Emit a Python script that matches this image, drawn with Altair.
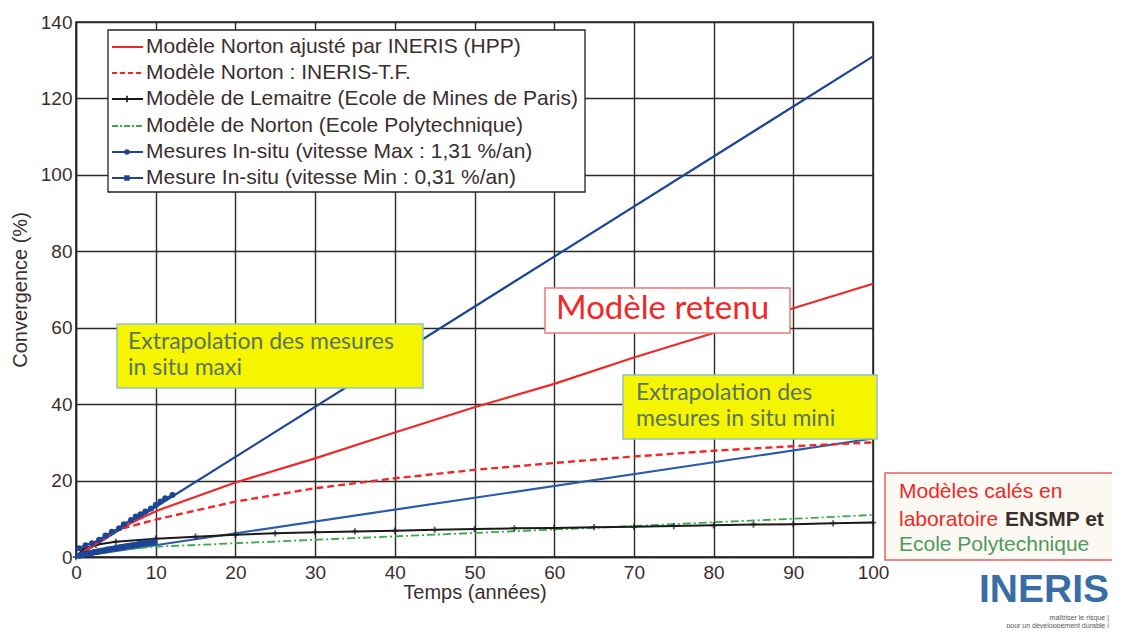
import altair as alt
import pandas as pd

# ---------------- data ----------------
t_model = [0, 5, 10, 20, 30, 40, 50, 60, 70, 80, 90, 100]
norton_hpp = [0, 7.0, 12.0, 19.5, 25.8, 32.6, 39.2, 45.3, 52.2, 58.6, 65.1, 71.5]
norton_tf = [0, 7.0, 9.8, 14.5, 18.0, 20.6, 22.8, 24.6, 26.3, 27.8, 29.0, 30.0]
norton_poly = [0, 1.8, 2.7, 3.6, 4.5, 5.4, 6.3, 7.2, 8.1, 9.1, 10.0, 11.0]

t_lem = [0, 1, 2.5, 5, 10, 15, 20, 25, 30, 35, 40, 45, 50, 55, 60, 65, 70, 75, 80, 85, 90, 95, 100]
lemaitre = [0, 2.2, 3.2, 4.0, 4.8, 5.3, 5.8, 6.2, 6.5, 6.7, 6.9, 7.1, 7.3, 7.5, 7.6, 7.8, 7.9, 8.1, 8.3, 8.5, 8.6, 8.8, 9.0]

t_extra = [0, 100]
extra_max = [0, 131]
extra_min = [0, 31]

t_meas_max = [0.4, 1.2, 2.0, 2.9, 3.7, 4.5, 5.4, 6.0, 6.9, 7.5, 8.1, 8.7, 9.4, 10.0, 10.6, 11.2, 12.1]
meas_max = [2.3, 3.1, 3.6, 4.5, 5.6, 6.6, 7.5, 8.6, 9.7, 10.6, 11.2, 11.9, 12.7, 13.6, 14.5, 15.4, 16.2]

t_meas_min = [0.3, 0.8, 1.3, 1.8, 2.4, 3.0, 3.5, 4.1, 4.7, 5.2, 5.8, 6.4, 7.0, 7.6, 8.1, 8.7, 9.3, 9.9]
meas_min = [0.3, 0.6, 0.8, 1.0, 1.3, 1.5, 1.7, 2.0, 2.2, 2.4, 2.6, 2.8, 3.0, 3.2, 3.4, 3.6, 3.8, 4.0]

x_ticks = [0, 10, 20, 30, 40, 50, 60, 70, 80, 90, 100]
y_ticks = [0, 20, 40, 60, 80, 100, 120, 140]

legend_labels = [
    "Modèle Norton ajusté par INERIS (HPP)",
    "Modèle Norton : INERIS-T.F.",
    "Modèle de Lemaitre (Ecole de Mines de Paris)",
    "Modèle de Norton (Ecole Polytechnique)",
    "Mesures In-situ (vitesse Max : 1,31 %/an)",
    "Mesure In-situ (vitesse Min : 0,31 %/an)",
]

# ---------------- styles ----------------
RED = "#f02828"
BLUE = "#1c4596"
BLUE2 = "#2a5bab"
GREEN = "#3aa845"
BLACK = "#1a1a1a"
TXT = "#3a2e2e"
FONT = "Liberation Sans"
AFONT = "Lato"

W, H = 797, 535


def df(t, v):
    return pd.DataFrame({"t": t, "v": v})


X = alt.X("t:Q", scale=alt.Scale(domain=[0, 100], nice=False, zero=False),
          axis=alt.Axis(values=x_ticks, title="Temps (années)", labelFlush=False,
                        labelOverlap=False, tickSize=0, labelPadding=6,
                        titlePadding=0, format="d"))
Y = alt.Y("v:Q", scale=alt.Scale(domain=[0, 140], nice=False),
          axis=alt.Axis(values=y_ticks, title="Convergence (%)", labelFlush=False,
                        labelOverlap=False, tickSize=0, labelPadding=4,
                        titlePadding=10, format="d"))
Xn = alt.X("t:Q")
Yn = alt.Y("v:Q")

layers = []
layers.append(alt.Chart(df(t_extra, extra_max)).mark_line(color=BLUE, strokeWidth=2.2).encode(x=X, y=Y))
layers.append(alt.Chart(df(t_extra, extra_min)).mark_line(color=BLUE2, strokeWidth=2.2).encode(x=Xn, y=Yn))
layers.append(alt.Chart(df(t_model, norton_poly)).mark_line(color=GREEN, strokeWidth=1.8, strokeDash=[8, 3, 2, 3]).encode(x=Xn, y=Yn))
layers.append(alt.Chart(df(t_lem, lemaitre)).mark_line(color=BLACK, strokeWidth=2).encode(x=Xn, y=Yn))
layers.append(alt.Chart(df(t_lem, lemaitre)).mark_point(shape="M-1,0L1,0M0,-1L0,1", color=BLACK, size=40, strokeWidth=1.8).encode(x=Xn, y=Yn))
layers.append(alt.Chart(df(t_model, norton_tf)).mark_line(color=RED, strokeWidth=2.4, strokeDash=[7, 4]).encode(x=Xn, y=Yn))
layers.append(alt.Chart(df(t_model, norton_hpp)).mark_line(color=RED, strokeWidth=2.2).encode(x=Xn, y=Yn))
layers.append(alt.Chart(df(t_meas_min, meas_min)).mark_line(color=BLUE, strokeWidth=6).encode(x=Xn, y=Yn))
layers.append(alt.Chart(df(t_meas_min, meas_min)).mark_point(shape="square", filled=True, color=BLUE, size=30, opacity=1).encode(x=Xn, y=Yn))
layers.append(alt.Chart(df(t_meas_max, meas_max)).mark_line(color=BLUE, strokeWidth=2).encode(x=Xn, y=Yn))
layers.append(alt.Chart(df(t_meas_max, meas_max)).mark_point(shape="circle", filled=True, color=BLUE, size=36, opacity=1).encode(x=Xn, y=Yn))

one = pd.DataFrame({"k": [0]})


def box(x1, x2, y1, y2, fill, stroke, sw=1.5):
    return alt.Chart(one).mark_rect(fill=fill, stroke=stroke, strokeWidth=sw).encode(
        x=alt.value(x1), x2=alt.value(x2), y=alt.value(y1), y2=alt.value(y2))


def label(x, y, text, size, color, font=FONT, weight="normal", align="left"):
    return alt.Chart(one).mark_text(text=text, fontSize=size, color=color, font=font,
                                    fontWeight=weight, align=align, baseline="middle").encode(
        x=alt.value(x), y=alt.value(y))


def hline(x1, x2, y, color, dash=None, sw=2):
    kw = dict(color=color, strokeWidth=sw)
    if dash is not None:
        kw["strokeDash"] = dash
    return alt.Chart(one).mark_rule(**kw).encode(x=alt.value(x1), x2=alt.value(x2), y=alt.value(y))


def marker(x, y, shape, color, size, filled=True, sw=1):
    return alt.Chart(one).mark_point(shape=shape, color=color, size=size, filled=filled,
                                     strokeWidth=sw, opacity=1).encode(x=alt.value(x), y=alt.value(y))


# legend (pixel layout inside plot area)
layers.append(box(32, 509, 8, 170, "white", "#222", 1.3))
rows = [25, 51, 77, 104, 130, 156]
lx1, lx2, ltx = 36, 67, 70
layers.append(hline(lx1, lx2, rows[0], RED))
layers.append(hline(lx1, lx2, rows[1], RED, [5, 3]))
layers.append(hline(lx1, lx2, rows[2], BLACK))
layers.append(marker(51, rows[2], "M-1,0L1,0M0,-1L0,1", BLACK, 40, False, 1.6))
layers.append(hline(lx1, lx2, rows[3], GREEN, [6, 2, 2, 2]))
layers.append(hline(lx1, lx2, rows[4], BLUE))
layers.append(marker(51, rows[4], "circle", BLUE, 30))
layers.append(hline(lx1, lx2, rows[5], BLUE))
layers.append(marker(51, rows[5], "square", BLUE, 30))
for r, txt in zip(rows, legend_labels):
    layers.append(label(ltx, r, txt, 21, TXT))

# annotations
ANN = "#5a7462"
layers.append(box(41, 347, 302, 366, "#f5f500", "#8fc4c4", 1.5))
layers.append(label(52, 320, "Extrapolation des mesures", 23, ANN, AFONT))
layers.append(label(52, 346, "in situ maxi", 23, ANN, AFONT))
layers.append(box(469, 714, 266, 311, "white", "#ee7a7a", 1.5))
layers.append(label(480, 287, "Modèle retenu", 33, RED, AFONT))
layers.append(box(547, 801, 353, 417, "#f5f500", "#8fc4c4", 1.5))
layers.append(label(560, 371, "Extrapolation des", 23, ANN, AFONT))
layers.append(label(560, 397, "mesures in situ mini", 23, ANN, AFONT))
layers.append(box(809, 1046, 451, 538, "#fbf9f1", "#e86060", 1.5))
layers.append(label(823, 470, "Modèles calés en", 21, RED))
layers.append(label(823, 498, "laboratoire", 21, RED))
layers.append(label(929, 498, "ENSMP et", 21, TXT, weight="bold"))
layers.append(label(823, 523, "Ecole Polytechnique", 21, "#4f9a5f"))

# logo
layers.append(label(1033, 568, "INERIS", 39, "#3a6ca8", weight="bold", align="right"))
layers.append(label(1033, 596, "maîtriser le risque |", 7, "#555555", align="right"))
layers.append(label(1033, 604, "pour un développement durable |", 7, "#555555", align="right"))

chart = alt.layer(*layers).properties(
    width=W, height=H,
    autosize=alt.AutoSizeParams(type="none"),
    padding={"left": 68, "top": 14, "right": 239, "bottom": 71},
    background="white",
).configure_view(
    stroke="#222", strokeWidth=1.5
).configure_axis(
    grid=True, gridColor="#2a2a2a", gridWidth=1.4, gridOpacity=1,
    domainColor="#222", domainWidth=1.5,
    labelFont=FONT, labelFontSize=19, labelColor=TXT,
    titleFont=FONT, titleFontSize=20, titleFontWeight="normal", titleColor=TXT,
)

chart.save("out.html", embed_options={"renderer": "svg", "actions": False})
